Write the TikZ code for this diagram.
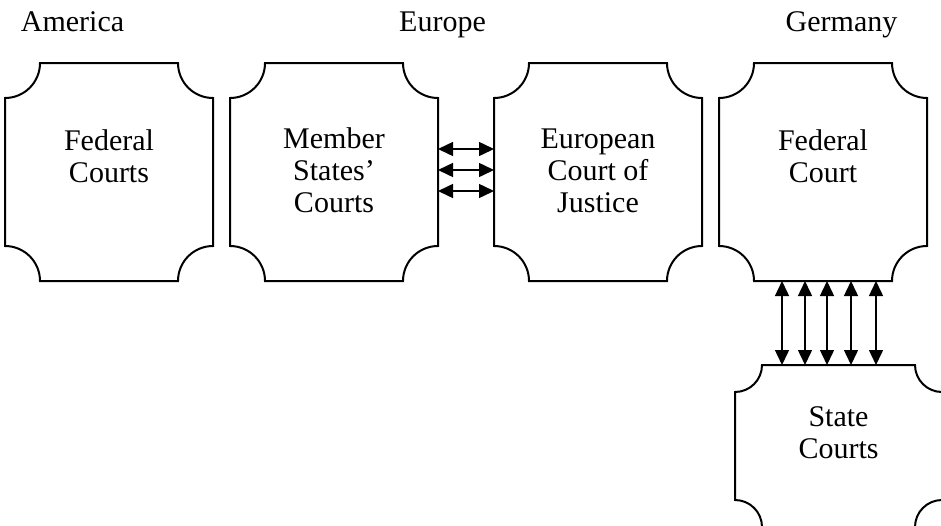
\documentclass[tikz,border=0pt]{standalone}
\usepackage{fontspec}
\setmainfont{Liberation Serif}
\usetikzlibrary{arrows.meta}
\tikzset{
  x=1pt, y=1pt,
  box/.style={inner sep=0pt, outer sep=0pt, font=\fontsize{30}{32}\selectfont},
  hdr/.style={inner sep=0pt, anchor=base, font=\fontsize{30}{32}\selectfont},
  border/.style={line width=2pt, line join=miter},
  dbl/.style={line width=1.5pt, {Triangle[length=15pt,width=14pt]}-{Triangle[length=15pt,width=14pt]}}
}
\newcommand{\plaquetext}[4]{\parbox[c][#2][t]{#1}{\centering\rule{0pt}{#3}#4}}
\newcommand{\plaque}[2]{%
  \draw[border] ([xshift=#2]#1.north west) -- ([xshift=-#2]#1.north east)
    arc[start angle=180, end angle=270, radius=#2]
    -- ([yshift=#2]#1.south east)
    arc[start angle=90, end angle=180, radius=#2]
    -- ([xshift=#2]#1.south west)
    arc[start angle=0, end angle=90, radius=#2]
    -- ([yshift=-#2]#1.north west)
    arc[start angle=270, end angle=360, radius=#2] -- cycle;}
\begin{document}
\begin{tikzpicture}
\useasboundingbox (0,0) rectangle (941,-525);
\clip (0,0) rectangle (941,-525);
\node[hdr] (h1) at (72.5,-31) {America};
\node[hdr] (h2) at (442.5,-31) {Europe};
\node[hdr] (h3) at (841.5,-31) {Germany};
\node[box] (b1) at (109,-172) {\plaquetext{208pt}{218pt}{87pt}{Federal\\Courts}};
\node[box] (b2) at (334,-172) {\plaquetext{208pt}{218pt}{85pt}{Member\\States’\\Courts}};
\node[box] (b3) at (598,-172) {\plaquetext{208pt}{218pt}{85pt}{European\\Court of\\Justice}};
\node[box] (b4) at (823,-172) {\plaquetext{208pt}{218pt}{87pt}{Federal\\Court}};
\node[box] (b5) at (838.5,-446) {\plaquetext{207pt}{162pt}{61pt}{State\\Courts}};
\foreach \n in {b1,b2,b3,b4}{\plaque{\n}{35pt}}
\plaque{b5}{27pt}
\foreach \yy in {-149,-170,-191}{
  \draw[dbl] (b2.east |- 0,\yy) -- (b3.west |- 0,\yy);
}
\foreach \xx in {782,805,827,851,876}{
  \draw[dbl] (b4.south -| \xx,0) -- (b5.north -| \xx,0);
}
\end{tikzpicture}
\end{document}
